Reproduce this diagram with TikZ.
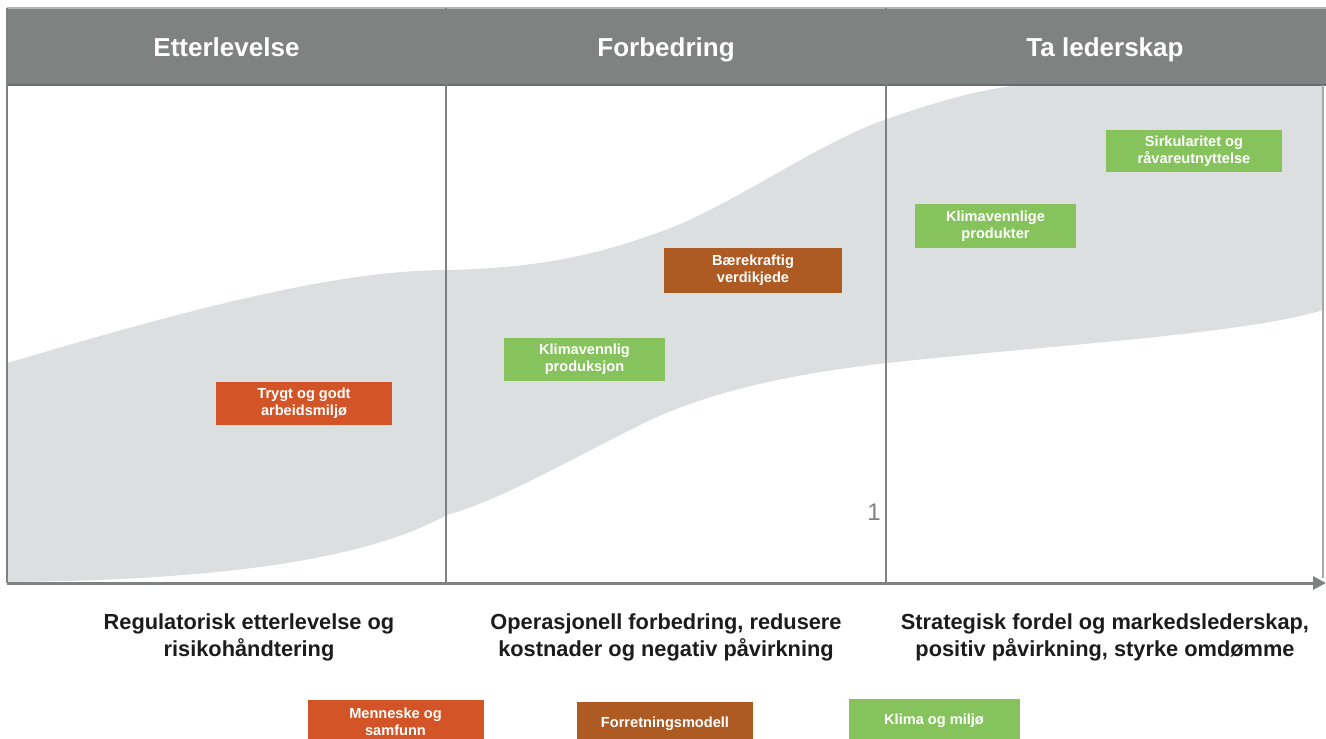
\documentclass[tikz,border=0pt]{standalone}
\usepackage{fontspec}
\setmainfont{Liberation Sans}
\usetikzlibrary{arrows.meta,positioning}
\definecolor{hdrgray}{HTML}{7E8281}
\definecolor{hdrline}{HTML}{696C6C}
\definecolor{frame}{HTML}{808282}
\definecolor{band}{HTML}{DCDFE0}
\definecolor{people}{HTML}{D35426}
\definecolor{business}{HTML}{AD5B22}
\definecolor{climate}{HTML}{87C35D}
\definecolor{ink}{HTML}{1C1C1C}
\tikzset{
  every picture/.style={line join=round},
  header/.style={font=\fontsize{14.8}{17}\selectfont\bfseries, text=white, anchor=base},
  tag/.style={
    font=\fontsize{8.3}{9.7}\selectfont\bfseries,
    text=white,
    align=center,
    inner sep=0pt,
    minimum width=35.2mm,
    minimum height=8.6mm
  },
  tagP/.style={tag, fill=people},
  tagB/.style={tag, fill=business},
  tagC/.style={tag, fill=climate},
  caption/.style={font=\fontsize{12.4}{15.4}\selectfont\bfseries, text=ink, align=center},
  divider/.style={draw=frame, line width=0.35mm},
  axis/.style={draw=frame, line width=0.6mm, -{Triangle[length=2.6mm,width=2.6mm]}}
}

\begin{document}
\begin{tikzpicture}[x=0.2mm, y=-0.2mm]
  \useasboundingbox (0,0) rectangle (1326,738);
  \clip (0,0) rectangle (1326,738);

  % grey band rising from compliance to leadership
  \fill[band] (7,363) .. controls (170,315) and (330,270) .. (447,270)
    .. controls (540,268) and (600,255) .. (673,227)
    .. controls (740,200) and (820,142) .. (887,119)
    .. controls (930,104) and (975,90) .. (1020,85)
    -- (1323,85) -- (1323,310)
    .. controls (1240,335) and (1050,345) .. (887,363)
    .. controls (780,375) and (700,395) .. (640,425)
    .. controls (560,465) and (500,500) .. (447,515)
    .. controls (390,546) and (280,580) .. (7,582) -- cycle;

  % header row
  \fill[hdrgray] (7,8) rectangle (1326,85);
  \draw[hdrline, line width=0.4mm] (7,85) -- (1326,85);
  \draw[frame!60, line width=0.3mm] (7,8) -- (1326,8);
  \node[header] (etter) at (226.5,56) {Etterlevelse};
  \node[header] (forbedr) at (666,56) {Forbedring};
  \node[header] (leder) at (1105,56) {Ta lederskap};

  % frame and column dividers
  \draw[divider] (7,8) -- (7,583);
  \draw[divider] (446,8) -- (446,583);
  \draw[divider] (886,8) -- (886,583);
  \draw[divider, draw=frame!70, line width=0.25mm] (1323,85) -- (1323,578);

  \coordinate (origin) at (7,583);
  \coordinate (xend) at (1326,583);
  \draw[axis] (origin) -- (xend);

  \node[text=frame, font=\fontsize{13.7}{16}\selectfont] (pagenr) at (874,512) {1};

  % initiatives
  \node[tagP] (trygt) at (304,403.5) {Trygt og godt\\arbeidsmiljø};
  \node[tagC, minimum width=32.2mm] (produksjon) at (584.5,359.5) {Klimavennlig\\produksjon};
  \node[tagB, minimum width=35.6mm, minimum height=9mm] (verdikjede) at (753,270.5) {Bærekraftig\\verdikjede};
  \node[tagC, minimum width=32.2mm, minimum height=8.8mm] (produkter) at (995.5,226) {Klimavennlige\\produkter};
  \node[tagC, minimum height=8.4mm] (sirkular) at (1194,151) {Sirkularitet og\\råvareutnyttelse};

  % captions under the axis
  \node[caption] (capA) at (249,637) {Regulatorisk etterlevelse og\\risikohåndtering};
  \node[caption] (capB) at (666,637) {Operasjonell forbedring, redusere\\kostnader og negativ påvirkning};
  \node[caption] (capC) at (1105,637) {Strategisk fordel og markedslederskap,\\positiv påvirkning, styrke omdømme};

  % legend
  \node[tagP] (menneske) at (395.5,721.5) {Menneske og\\samfunn};
  \node[tagB] (forretning) at (665,723.5) {Forretningsmodell};
  \node[tagC, minimum width=34.2mm] (klima) at (934,720.5) {Klima og miljø};
\end{tikzpicture}
\end{document}
